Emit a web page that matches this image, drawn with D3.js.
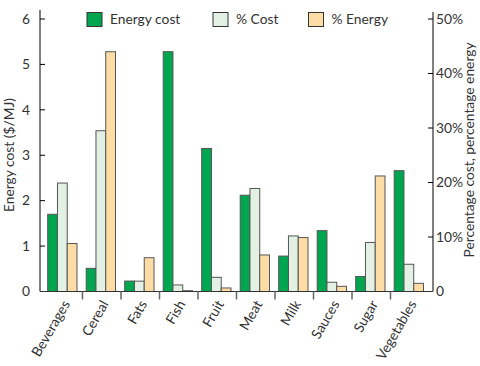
<!DOCTYPE html>
<html><head><meta charset="utf-8">
<script src="https://cdn.jsdelivr.net/npm/d3@7"></script>
<style>
body{margin:0;background:#fff;}
text{font-family:Lato,"Open Sans",sans-serif;fill:#333;}
</style></head>
<body><svg id="c" width="480" height="366"></svg>
<script>
const categories = ["Beverages","Cereal","Fats","Fish","Fruit","Meat","Milk","Sauces","Sugar","Vegetables"];
const energyCost = [1.70,0.51,0.23,5.28,3.15,2.12,0.78,1.34,0.33,2.66];
const pctCost = [19.9,29.5,1.9,1.2,2.6,18.9,10.2,1.7,9.0,5.0];
const pctEnergy = [8.8,44.0,6.2,0.15,0.65,6.7,9.9,0.95,21.2,1.5];
const leftTicks = [0,1,2,3,4,5,6];
const rightTicks = [0,10,20,30,40,50];
const seriesNames = ["Energy cost","% Cost","% Energy"];
const colors = ["#00a550","#e2f1e4","#fedca6"];

const svg = d3.select("#c");
const L = 40, R = 433, T = 19, B = 291.5;
const FS = 13.8;
const x = d3.scaleBand().domain(categories).range([44, 429]).paddingInner(0).paddingOuter(0);
const yL = d3.scaleLinear().domain([0,6]).range([B,T]);
const yR = d3.scaleLinear().domain([0,50]).range([B,T]);
const sub = d3.scaleBand().domain([0,1,2]).range([3.7, 33]).padding(0);

// bars
const data = [];
categories.forEach((c,i)=>{
  data.push({c, s:0, v:energyCost[i], y:yL});
  data.push({c, s:1, v:pctCost[i], y:yR});
  data.push({c, s:2, v:pctEnergy[i], y:yR});
});
svg.append("g").selectAll("rect").data(data).join("rect")
  .attr("x", d=>x(d.c)+sub(d.s))
  .attr("width", sub.bandwidth())
  .attr("y", d=>d.y(d.v))
  .attr("height", d=>B-d.y(d.v))
  .attr("fill", d=>colors[d.s])
  .attr("stroke", "#555").attr("stroke-width", 1);

// left axis
const gl = svg.append("g").attr("transform",`translate(${L},0)`);
gl.append("line").attr("x1",0).attr("x2",0).attr("y1",10).attr("y2",B).attr("stroke","#000");
gl.selectAll("line.t").data(leftTicks).join("line").attr("class","t")
  .attr("x1",0).attr("x2",5).attr("y1",d=>yL(d)).attr("y2",d=>yL(d)).attr("stroke","#000");
gl.selectAll("text").data(leftTicks).join("text")
  .attr("x",-10).attr("y",d=>yL(d)).attr("dy","0.35em").attr("text-anchor","end")
  .attr("font-size",FS).text(d=>d);

// right axis
const gr = svg.append("g").attr("transform",`translate(${R},0)`);
gr.append("line").attr("x1",0).attr("x2",0).attr("y1",12).attr("y2",B).attr("stroke","#000");
gr.selectAll("line.t").data(rightTicks).join("line").attr("class","t")
  .attr("x1",-5).attr("x2",0).attr("y1",d=>yR(d)).attr("y2",d=>yR(d)).attr("stroke","#000");
gr.selectAll("text").data(rightTicks).join("text")
  .attr("x",3).attr("y",d=>yR(d)).attr("dy","0.35em").attr("text-anchor","start")
  .attr("font-size",FS).text(d=>d===0?"0":d+"%");

// x axis
svg.append("line").attr("x1",L).attr("x2",R).attr("y1",B).attr("y2",B).attr("stroke","#333");
const bounds = categories.slice(1).map(c=>x(c));
svg.append("g").selectAll("line").data(bounds).join("line")
  .attr("x1",d=>d).attr("x2",d=>d).attr("y1",B).attr("y2",B+8)
  .attr("stroke","#666").attr("stroke-width",1.5);
svg.append("g").selectAll("text").data(categories).join("text")
  .attr("transform",d=>`translate(${x(d)+x.bandwidth()/2+3},${B+10}) rotate(-60)`)
  .attr("text-anchor","end").attr("dy","0.35em").attr("font-size",FS).text(d=>d);

// axis titles
svg.append("text").attr("transform",`translate(13.5,155) rotate(-90)`)
  .attr("text-anchor","middle").attr("font-size",FS).text("Energy cost ($/MJ)");
svg.append("text").attr("transform",`translate(474,150) rotate(-90)`)
  .attr("text-anchor","middle").attr("font-size",FS).text("Percentage cost, percentage energy");

// legend
const legX = [87, 213, 308.5];
const lg = svg.append("g").selectAll("g").data(seriesNames).join("g")
  .attr("transform",(d,i)=>`translate(${legX[i]},12.5)`);
lg.append("rect").attr("width",15).attr("height",14)
  .attr("fill",(d,i)=>colors[i]).attr("stroke","#333");
lg.append("text").attr("x",23).attr("y",7).attr("dy","0.35em").attr("font-size",FS).text(d=>d);
</script></body></html>
